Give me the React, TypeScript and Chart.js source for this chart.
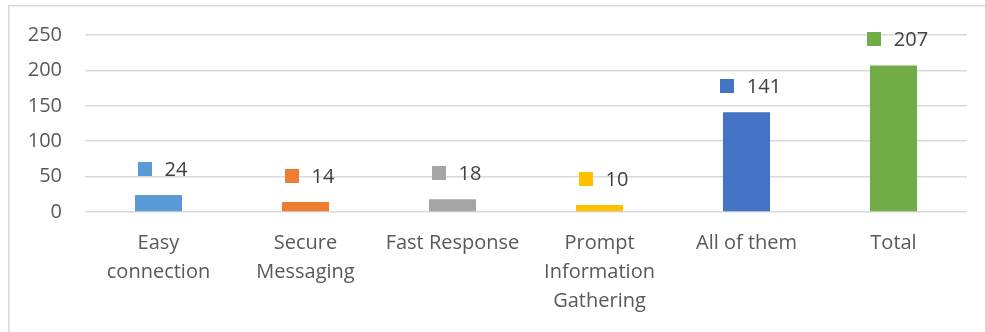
import React, { useEffect, useRef } from "react";
import { Chart, registerables } from "chart.js";

Chart.register(...registerables);

const categories: (string | string[])[] = [
  ["Easy", "connection"],
  ["Secure", "Messaging"],
  "Fast Response",
  ["Prompt", "Information", "Gathering"],
  "All of them",
  "Total",
];
const values: number[] = [24, 14, 18, 10, 141, 207];
const barColors: string[] = ["#5B9BD5", "#ED7D31", "#A5A5A5", "#FFC000", "#4472C4", "#70AD47"];
const yTicks = { min: 0, max: 250, step: 50 };

const FONT = "'Open Sans', sans-serif";
const FS = 20;

const frameAndLabels = {
  id: "frameAndLabels",
  beforeDraw(chart: any) {
    const ctx = chart.ctx;
    ctx.save();
    ctx.fillStyle = "#ffffff";
    ctx.fillRect(0, 0, chart.width, chart.height);
    ctx.strokeStyle = "#d9d9d9";
    ctx.lineWidth = 1.5;
    ctx.beginPath();
    ctx.moveTo(8.75, chart.height + 2);
    ctx.lineTo(8.75, 5.75);
    ctx.lineTo(chart.width + 2, 5.75);
    ctx.stroke();
    ctx.restore();
  },
  afterDatasetsDraw(chart: any) {
    const ctx = chart.ctx;
    const meta = chart.getDatasetMeta(0);
    ctx.save();
    ctx.font = `${FS}px ${FONT}`;
    ctx.textBaseline = "middle";
    ctx.textAlign = "left";
    meta.data.forEach((el: any, i: number) => {
      const text = String(values[i]);
      const tw = ctx.measureText(text).width;
      const total = 14 + 13 + tw;
      const left = el.x + 4 - total / 2;
      const cy = el.y - 26;
      ctx.fillStyle = barColors[i];
      ctx.fillRect(Math.round(left), Math.round(cy - 7), 14, 14);
      ctx.fillStyle = "#404040";
      ctx.fillText(text, left + 27, cy + 1);
    });
    ctx.restore();
  },
};

export default function App() {
  const ref = useRef<HTMLCanvasElement | null>(null);
  useEffect(() => {
    document.body.style.margin = "0";
    const chart = new Chart(ref.current as HTMLCanvasElement, {
      type: "bar",
      data: {
        labels: categories,
        datasets: [
          {
            data: values,
            backgroundColor: barColors,
            categoryPercentage: 1,
            barPercentage: 0.32,
          },
        ],
      },
      options: {
        animation: false,
        responsive: false,
        devicePixelRatio: 1,
        layout: { padding: { top: 34, right: 18, bottom: 0, left: 0 } },
        plugins: { legend: { display: false }, tooltip: { enabled: false } },
        scales: {
          x: {
            grid: { display: false, drawTicks: false },
            border: { display: false },
            ticks: {
              color: "#595959",
              font: { family: FONT, size: FS, lineHeight: 29 / FS },
              padding: 17,
              maxRotation: 0,
              autoSkip: false,
            },
            afterFit: (s: any) => {
              s.height = 120;
            },
          },
          y: {
            min: yTicks.min,
            max: yTicks.max,
            grid: { color: "#d9d9d9", lineWidth: 1.5, drawTicks: false },
            border: { display: false },
            ticks: {
              stepSize: yTicks.step,
              color: "#595959",
              font: { family: FONT, size: FS },
              padding: 23,
            },
            afterFit: (s: any) => {
              s.width = 85;
            },
          },
        },
      },
      plugins: [frameAndLabels],
    });
    return () => chart.destroy();
  }, []);
  return <canvas ref={ref} width={985} height={332} style={{ display: "block" }} />;
}
